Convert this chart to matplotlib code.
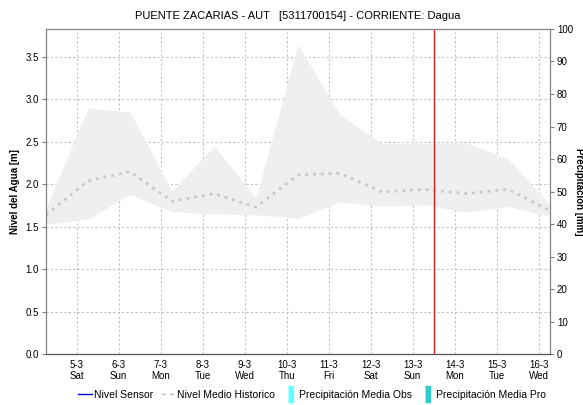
import datetime as dt
import matplotlib
matplotlib.use('Agg')
import matplotlib.pyplot as plt
from matplotlib.lines import Line2D

plt.rcParams['font.family'] = ['Liberation Sans', 'DejaVu Sans']

# daily points (4-3 .. 16-3), sampled around 06:30
start = dt.datetime(2022, 3, 4, 6, 30)
days = [start + dt.timedelta(days=i) for i in range(13)]
hist_max = [1.72, 2.90, 2.85, 1.92, 2.45, 1.84, 3.65, 2.82, 2.48, 2.48, 2.49, 2.30, 1.76]
hist_min = [1.53, 1.59, 1.88, 1.68, 1.65, 1.64, 1.60, 1.79, 1.74, 1.76, 1.67, 1.74, 1.62]
hist_mean = [1.64, 2.04, 2.15, 1.80, 1.89, 1.73, 2.11, 2.13, 1.91, 1.94, 1.89, 1.94, 1.69]

tick_days = [dt.datetime(2022, 3, d) for d in range(5, 17)]
tick_labels = ['5-3\nSat', '6-3\nSun', '7-3\nMon', '8-3\nTue', '9-3\nWed', '10-3\nThu',
               '11-3\nFri', '12-3\nSat', '13-3\nSun', '14-3\nMon', '15-3\nTue', '16-3\nWed']
now_line = dt.datetime(2022, 3, 13, 12, 0)

title = 'PUENTE ZACARIAS - AUT   [5311700154] - CORRIENTE: Dagua'

fig = plt.figure(figsize=(5.83, 4.05), dpi=100)
ax = fig.add_axes([0.0789, 0.1259, 0.8645, 0.8025])
ax2 = ax.twinx()

ax.fill_between(days, hist_min, hist_max, color='#efefef', lw=0, zorder=1)
ax.plot(days, hist_mean, color='#c8c8c8', lw=2, ls=(0, (1, 1.8)), zorder=2)
ax.axvline(now_line, color='#d42020', lw=1, zorder=3)

ax.set_xlim(days[0], days[-1])
ax.set_ylim(0, 3.83)
ax.set_yticks([0, 0.5, 1.0, 1.5, 2.0, 2.5, 3.0, 3.5])
ax.set_yticklabels(['0.0', '0.5', '1.0', '1.5', '2.0', '2.5', '3.0', '3.5'])
ax.set_xticks(tick_days)
ax.set_xticklabels(tick_labels)
ax.grid(True, color='#c0c0c0', lw=0.8, ls=(0, (2, 2)), zorder=0)
ax.set_axisbelow(True)

ax2.set_ylim(0, 100)
ax2.set_yticks(range(0, 101, 10))

for a in (ax, ax2):
    for s in a.spines.values():
        s.set_color('#808080')
    a.spines['bottom'].set_linestyle((0, (1, 0.6)))
    a.spines['bottom'].set_color('#555555')
    a.tick_params(axis='y', labelsize=7, length=3, width=0.8, color='#808080', pad=2)
ax.tick_params(axis='x', labelsize=7, length=0, pad=4)

ax.set_ylabel('Nivel del Agua [m]', fontsize=7, fontweight='bold', labelpad=4)
ax2.set_ylabel('Precipitación [mm]', fontsize=7, fontweight='bold', rotation=270, labelpad=8)
ax.set_title(title, fontsize=8, pad=7)

bar_marker = [(-0.3, -1), (0.3, -1), (0.3, 1), (-0.3, 1)]
handles = [
    Line2D([], [], color='#0000cc', lw=1),
    Line2D([], [], color='#c0c0c0', lw=1, ls=(0, (3, 3))),
    Line2D([], [], ls='none', marker=bar_marker, markersize=12, color='#66ffff'),
    Line2D([], [], ls='none', marker=bar_marker, markersize=12, color='#33cccc'),
]
labels = ['Nivel Sensor', 'Nivel Medio Historico', 'Precipitación Media Obs', 'Precipitación Media Pro']
fig.legend(handles, labels, loc='center', bbox_to_anchor=(0.535, 0.025), ncol=4, frameon=False,
           fontsize=7.5, handlelength=1.4, handletextpad=0.2, columnspacing=0.7)

fig.savefig('out.png', dpi=100)
